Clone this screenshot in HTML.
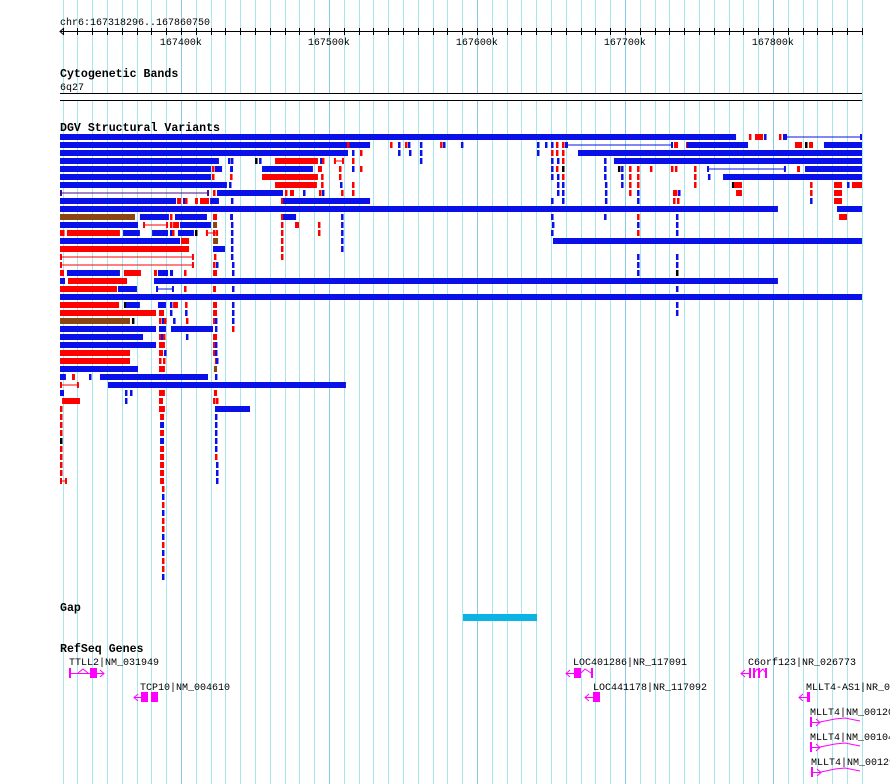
<!DOCTYPE html>
<html><head><meta charset="utf-8"><style>
html,body{margin:0;padding:0;background:#fff;width:890px;height:784px;overflow:hidden}
svg text{font-family:"Liberation Mono",monospace}
</style></head><body>
<svg id="chart" width="890" height="784" xmlns="http://www.w3.org/2000/svg">
<g id="grid"></g>
<g id="ruler">
<text x="60" y="25" font-size="10">chr6:167318296..167860750</text>
</g>
<text x="60" y="77" font-size="11.6" font-weight="bold">Cytogenetic Bands</text>
<text x="60" y="90" font-size="10">6q27</text>
<rect x="60" y="93" width="802" height="7" fill="#fff"/>
<line x1="60" x2="862" y1="93.5" y2="93.5" stroke="#000"/>
<line x1="60" x2="862" y1="100.5" y2="100.5" stroke="#000"/>
<text x="60" y="131" font-size="11.6" font-weight="bold">DGV Structural Variants</text>
<g id="dgv"></g>
<text x="60" y="611" font-size="11.6" font-weight="bold">Gap</text>
<g id="gap"></g>
<text x="60" y="652" font-size="11.6" font-weight="bold">RefSeq Genes</text>
<g id="genes" fill="#ff00ff" stroke="#ff00ff" font-size="10">
 <g>
  <text x="69" y="665" stroke="none" fill="#000">TTLL2|NM_031949</text>
  <rect x="69" y="668" width="2" height="10" stroke="none"/>
  <line x1="71" x2="104" y1="673.5" y2="673.5"/>
  <polyline points="78,673 83,669 88,673" fill="none"/>
  <rect x="90" y="668" width="7" height="10" stroke="none"/>
  <polyline points="100,670 104,673.5 100,677" fill="none"/>
 </g>
 <g>
  <text x="140" y="690" stroke="none" fill="#000">TCP10|NM_004610</text>
  <line x1="134" x2="141" y1="697.5" y2="697.5"/>
  <polyline points="138,694 134,697.5 138,701" fill="none"/>
  <rect x="141" y="692" width="7" height="10" stroke="none"/>
  <rect x="151" y="692" width="7" height="10" stroke="none"/>
 </g>
 <g>
  <text x="573" y="665" stroke="none" fill="#000">LOC401286|NR_117091</text>
  <line x1="566" x2="574" y1="673.5" y2="673.5"/>
  <polyline points="570,670 566,673.5 570,677" fill="none"/>
  <rect x="574" y="668" width="7" height="10" stroke="none"/>
  <polyline points="581,673 585,669 591,673" fill="none"/>
  <rect x="591" y="668" width="2" height="10" stroke="none"/>
 </g>
 <g>
  <text x="593" y="690" stroke="none" fill="#000">LOC441178|NR_117092</text>
  <line x1="585" x2="593" y1="697.5" y2="697.5"/>
  <polyline points="589,694 585,697.5 589,701" fill="none"/>
  <rect x="593" y="692" width="7" height="10" stroke="none"/>
 </g>
 <g>
  <text x="748" y="665" stroke="none" fill="#000">C6orf123|NR_026773</text>
  <line x1="741" x2="750" y1="673.5" y2="673.5"/>
  <polyline points="745,670 741,673.5 745,677" fill="none"/>
  <rect x="749" y="668" width="2" height="10" stroke="none"/>
  <rect x="753" y="668" width="2" height="10" stroke="none"/>
  <rect x="758" y="668" width="2" height="10" stroke="none"/>
  <rect x="765" y="668" width="2" height="10" stroke="none"/>
  <polyline points="755,672 757,669 760,672 763,669 765,672" fill="none"/>
 </g>
 <g>
  <text x="806" y="690" stroke="none" fill="#000">MLLT4-AS1|NR_033980</text>
  <line x1="799" x2="807" y1="697.5" y2="697.5"/>
  <polyline points="803,694 799,697.5 803,701" fill="none"/>
  <rect x="807" y="692" width="3" height="10" stroke="none"/>
 </g>
 <g>
  <text x="810" y="715" stroke="none" fill="#000">MLLT4|NM_001207008</text>
  <rect x="810" y="717" width="2" height="10" stroke="none"/>
  <line x1="812" x2="820" y1="722.5" y2="722.5"/>
  <polyline points="816,719 820,722.5 816,726" fill="none"/>
  <polyline points="820,722 835,719 845,718 860,721" fill="none"/>
 </g>
 <g>
  <text x="810" y="740" stroke="none" fill="#000">MLLT4|NM_001040000</text>
  <rect x="810" y="742" width="2" height="10" stroke="none"/>
  <line x1="812" x2="820" y1="747.5" y2="747.5"/>
  <polyline points="816,744 820,747.5 816,751" fill="none"/>
  <polyline points="820,747 835,744 845,743 860,746" fill="none"/>
 </g>
 <g>
  <text x="811" y="765" stroke="none" fill="#000">MLLT4|NM_001291964</text>
  <rect x="811" y="767" width="2" height="10" stroke="none"/>
  <line x1="813" x2="821" y1="772.5" y2="772.5"/>
  <polyline points="817,769 821,772.5 817,776" fill="none"/>
  <polyline points="821,772 835,769 845,768 860,771" fill="none"/>
 </g>
</g>
</svg>
<script>
// kb offsets from region start 167318.296 kb
const regionStartKb = 167318.296;
const regionLengthKb = 541.9;
const tickStepKb = 10;
const majorLabels = ["167400k","167500k","167600k","167700k","167800k"];
const majorPositionsKb = [167400,167500,167600,167700,167800];
const gapStart = [272.3];
const gapEnd = [322.3];
// variants: [row, startKb, endKb, type]
const variants = [
[0,0,456.8,'b'],[0,465.5,466.9,'r'],[0,469.6,475,'r'],[0,475.7,477,'b'],[0,485.8,487.2,'r'],[0,488.5,489.9,'b'],[0,489.9,541.9,'B'],
[1,0,209.5,'b'],[1,193.9,195.3,'r'],[1,223,223,'r'],[1,228.4,228.4,'b'],[1,233.1,233.1,'r'],[1,235.1,235.1,'b'],[1,243.2,243.2,'b'],[1,256.8,256.8,'r'],[1,258.8,258.8,'b'],[1,270.9,270.9,'b'],[1,322.3,322.3,'b'],[1,327.7,327.7,'b'],[1,331.8,331.8,'b'],[1,335.1,335.1,'r'],[1,339.2,340.5,'r'],[1,341.2,341.2,'b'],[1,341.9,414.2,'B'],[1,414.9,417.6,'r'],[1,423,423,'r'],[1,423.6,464.9,'b'],[1,496.6,501.4,'r'],[1,503.4,503.4,'k'],[1,506.1,508.8,'r'],[1,516.2,541.9,'b'],
[2,0,194.6,'b'],[2,197.3,197.3,'b'],[2,202.7,202.7,'r'],[2,228.4,228.4,'b'],[2,235.8,235.8,'b'],[2,243.2,243.2,'b'],[2,322.3,322.3,'b'],[2,331.8,331.8,'r'],[2,335.1,335.1,'r'],[2,339.2,339.2,'r'],[2,350,541.9,'b'],
[3,0,107.4,'b'],[3,113.5,113.5,'b'],[3,115.5,115.5,'b'],[3,131.8,131.8,'k'],[3,134.5,134.5,'b'],[3,145.3,174.3,'r'],[3,175.7,175.7,'b'],[3,177,177,'r'],[3,185.1,191.9,'R'],[3,197.3,197.3,'r'],[3,243.2,243.2,'b'],[3,331.8,331.8,'b'],[3,335.8,335.8,'b'],[3,339.2,339.2,'r'],[3,367.6,367.6,'b'],[3,374.3,541.9,'b'],
[4,0,102,'b'],[4,102.7,102.7,'r'],[4,104.7,109.5,'b'],[4,114.9,116.9,'b'],[4,136.5,170.9,'b'],[4,174.3,177,'r'],[4,188.5,188.5,'r'],[4,197.3,197.3,'b'],[4,202.7,202.7,'r'],[4,331.8,331.8,'b'],[4,335.1,335.1,'r'],[4,339.2,339.2,'k'],[4,367.6,367.6,'b'],[4,377,377,'k'],[4,379.1,379.1,'b'],[4,384.5,384.5,'r'],[4,389.9,389.9,'r'],[4,398.6,398.6,'r'],[4,412.8,412.8,'r'],[4,415.5,415.5,'r'],[4,428.4,428.4,'r'],[4,437.2,490.5,'B'],[4,498,500,'r'],[4,503.4,541.9,'b'],
[5,0,102,'b'],[5,102.7,104,'r'],[5,114.9,116.2,'r'],[5,136.5,174.3,'r'],[5,176.4,176.4,'r'],[5,188.5,188.5,'r'],[5,331.8,331.8,'b'],[5,335.8,335.8,'b'],[5,339.2,339.2,'r'],[5,367.6,367.6,'b'],[5,379.1,379.1,'b'],[5,384.5,384.5,'r'],[5,389.9,389.9,'r'],[5,428.4,428.4,'r'],[5,437.8,437.8,'b'],[5,448,541.9,'b'],
[6,0,112.8,'b'],[6,114.2,115.5,'b'],[6,145.3,173.6,'r'],[6,176.4,176.4,'r'],[6,189.2,189.2,'b'],[6,197.3,197.3,'r'],[6,335.8,335.8,'b'],[6,339.2,339.2,'b'],[6,368.2,368.2,'b'],[6,379.1,379.1,'b'],[6,384.5,384.5,'r'],[6,389.9,389.9,'r'],[6,428.4,428.4,'r'],[6,454,454,'k'],[6,455.4,460.8,'r'],[6,506.8,506.8,'r'],[6,523,528.4,'r'],[6,531.8,531.8,'b'],[6,535.1,541.9,'r'],
[7,0,100.7,'P'],[7,103.4,103.4,'r'],[7,106.1,150.7,'b'],[7,152,152,'r'],[7,155.4,158.1,'r'],[7,164.2,164.2,'b'],[7,175,175,'r'],[7,177,177,'b'],[7,189.9,189.9,'r'],[7,197.3,197.3,'r'],[7,335.8,335.8,'b'],[7,339.2,339.2,'b'],[7,368.2,368.2,'b'],[7,384.5,384.5,'r'],[7,389.9,389.9,'b'],[7,414.2,414.2,'r'],[7,415.5,416.9,'r'],[7,417.6,417.6,'b'],[7,456.8,460.8,'r'],[7,506.8,506.8,'r'],[7,523,528.4,'r'],
[8,0,78.4,'b'],[8,79.1,81.8,'r'],[8,83.1,83.1,'b'],[8,84.5,84.5,'r'],[8,91.2,93.2,'r'],[8,94.6,100.7,'r'],[8,101.4,107.4,'b'],[8,115.5,116.9,'b'],[8,149.3,149.3,'r'],[8,150.7,209.5,'b'],[8,331.8,331.8,'b'],[8,339.2,339.2,'b'],[8,368.2,368.2,'b'],[8,389.9,389.9,'b'],[8,414.2,414.2,'r'],[8,416.9,416.9,'r'],[8,506.8,506.8,'b'],[8,523,528.4,'r'],
[9,0,485.1,'b'],[9,525,541.9,'b'],
[10,0,50.7,'n'],[10,54,73.6,'b'],[10,74.3,75.7,'r'],[10,77.7,99.3,'b'],[10,103.4,106.1,'r'],[10,114.9,116.9,'b'],[10,149.3,149.3,'r'],[10,150.7,159.5,'b'],[10,189.9,189.9,'b'],[10,331.8,331.8,'b'],[10,367.6,367.6,'b'],[10,389.9,389.9,'r'],[10,416.2,416.2,'b'],[10,526.4,531.8,'r'],
[11,0,52.7,'b'],[11,56.1,73,'R'],[11,74.3,74.3,'r'],[11,76.4,76.4,'r'],[11,77.7,80.4,'r'],[11,81.1,102,'b'],[11,103.4,106.1,'n'],[11,115.5,115.5,'b'],[11,149.3,149.3,'r'],[11,158.8,161.5,'r'],[11,174.3,174.3,'r'],[11,189.9,189.9,'b'],[11,332.4,332.4,'b'],[11,389.9,389.9,'b'],[11,416.2,416.2,'b'],
[12,0,1,'r'],[12,1.4,2.7,'r'],[12,4.7,40.5,'r'],[12,42.6,54,'b'],[12,62.2,73,'b'],[12,74.3,74.3,'b'],[12,75.7,77,'r'],[12,79.7,90.5,'b'],[12,91.2,91.2,'k'],[12,98.6,106.8,'R'],[12,103.4,104,'r'],[12,115.5,115.5,'b'],[12,149.3,149.3,'r'],[12,174.3,174.3,'r'],[12,189.9,189.9,'b'],[12,331.8,331.8,'b'],[12,389.9,389.9,'r'],[12,416.2,416.2,'b'],
[13,0,81.1,'b'],[13,81.8,87.2,'r'],[13,103.4,106.8,'n'],[13,115.5,115.5,'b'],[13,149.3,149.3,'r'],[13,189.9,189.9,'b'],[13,333.1,541.9,'b'],
[14,0,87.2,'r'],[14,103.4,111.5,'b'],[14,115.5,115.5,'b'],[14,149.3,149.3,'r'],[14,189.9,189.9,'b'],
[15,0,90.5,'R'],[15,104,104,'r'],[15,115.5,115.5,'b'],[15,149.3,149.3,'r'],[15,389.9,389.9,'b'],[15,416.2,416.2,'b'],
[16,0,90.5,'R'],[16,103.4,103.4,'r'],[16,105.4,105.4,'b'],[16,116.2,116.2,'b'],[16,389.9,389.9,'b'],[16,416.2,416.2,'b'],
[17,0,2.7,'r'],[17,4.7,40.5,'b'],[17,43.2,54.7,'r'],[17,63.5,65.5,'r'],[17,66.2,73,'b'],[17,74.3,76.4,'b'],[17,83.8,83.8,'r'],[17,103.4,106.1,'r'],[17,116.2,116.2,'b'],[17,389.9,389.9,'b'],[17,416.2,416.2,'k'],
[18,0,3.4,'b'],[18,5.4,45.3,'r'],[18,63.5,485.1,'b'],
[19,0,38.5,'r'],[19,39.2,52,'b'],[19,64.9,77,'B'],[19,83.8,83.8,'r'],[19,103.4,105.4,'r'],[19,116.2,116.2,'b'],[19,416.2,416.2,'b'],
[20,0,541.9,'b'],
[21,0,39.9,'r'],[21,43.2,43.2,'k'],[21,44.6,54,'b'],[21,66.2,71.6,'b'],[21,74.3,74.3,'b'],[21,76.4,79.7,'r'],[21,84.5,84.5,'r'],[21,103.4,106.1,'r'],[21,116.2,116.2,'b'],[21,416.2,416.2,'b'],
[22,0,64.9,'r'],[22,66.9,70.3,'r'],[22,74.3,74.3,'b'],[22,84.5,84.5,'b'],[22,103.4,106.1,'r'],[22,116.2,116.2,'b'],[22,416.2,416.2,'b'],
[23,0,47.3,'n'],[23,48.6,48.6,'k'],[23,66.9,66.9,'r'],[23,68.9,68.9,'b'],[23,70.3,70.3,'r'],[23,76.4,76.4,'b'],[23,85.1,85.1,'r'],[23,103.4,103.4,'r'],[23,104.7,104.7,'b'],[23,116.2,116.2,'b'],
[24,0,64.9,'b'],[24,66.9,71.6,'b'],[24,75,103.4,'b'],[24,104.7,104.7,'b'],[24,116.2,116.2,'r'],
[25,0,56.1,'b'],[25,66.9,66.9,'r'],[25,68.2,68.2,'b'],[25,69.6,69.6,'r'],[25,85.1,85.1,'b'],[25,103.4,106.1,'r'],
[26,0,64.9,'b'],[26,66.9,70.9,'r'],[26,103.4,103.4,'r'],[26,104.7,104.7,'b'],
[27,0,47.3,'r'],[27,66.9,69.6,'r'],[27,70.3,70.3,'b'],[27,103.4,103.4,'r'],[27,104.7,104.7,'b'],
[28,0,47.3,'r'],[28,66.9,66.9,'r'],[28,69.6,70.9,'r'],[28,104.7,104.7,'r'],[28,105.4,105.4,'b'],
[29,0,52.7,'b'],[29,66.9,70.9,'r'],[29,104,106.1,'n'],
[30,0,4,'b'],[30,8.1,10.1,'r'],[30,19.6,21,'b'],[30,27,27,'b'],[30,28.4,100,'b'],[30,104.7,104.7,'b'],
[31,0,12.8,'R'],[31,32.4,193.2,'b'],
[32,0,2.7,'b'],[32,43.9,43.9,'b'],[32,47.3,47.3,'b'],[32,66.9,70.9,'r'],[32,104,106.1,'r'],
[33,1.4,13.5,'r'],[33,43.9,43.9,'b'],[33,66.9,69.6,'r'],[33,103.4,103.4,'r'],[33,105.4,105.4,'r'],
[34,0,0,'r'],[34,66.9,70.9,'r'],[34,104.7,128.4,'b'],
[35,0,0,'r'],[35,67.6,70.3,'r'],[35,104.7,104.7,'b'],
[36,0,0,'r'],[36,67.6,70.3,'b'],[36,104.7,104.7,'b'],
[37,0,0,'r'],[37,67.6,70.3,'r'],[37,104.7,104.7,'b'],
[38,0,0,'k'],[38,67.6,70.3,'b'],[38,104.7,104.7,'b'],
[39,0,0,'r'],[39,67.6,70.3,'r'],[39,104.7,104.7,'b'],
[40,0,0,'r'],[40,67.6,70.3,'r'],[40,104.7,104.7,'r'],
[41,0,0,'r'],[41,67.6,70.3,'r'],[41,105.4,105.4,'b'],
[42,0,0,'r'],[42,67.6,70.3,'r'],[42,105.4,105.4,'b'],
[43,0,4.7,'R'],[43,67.6,70.3,'r'],[43,105.4,105.4,'b'],
[44,68.9,68.9,'r'],[45,68.9,68.9,'b'],[46,68.9,68.9,'r'],[47,68.9,68.9,'b'],[48,68.9,68.9,'r'],
[49,68.9,68.9,'r'],[50,68.9,68.9,'b'],[51,68.9,68.9,'r'],[52,68.9,68.9,'b'],[53,68.9,68.9,'r'],[54,68.9,68.9,'r'],[55,68.9,68.9,'b']
];
const NS='http://www.w3.org/2000/svg';
const pxPerKb = 802/regionLengthKb;
function xScale(kb){return 60+kb*pxPerKb;}
function rowY(r){return 134+r*8;}
const colors={b:'#0a10e8',r:'#ff0000',n:'#8b4513',k:'#000000',B:'#0a10e8',R:'#ff0000',P:'#4b0a8c'};
function mk(tag,attrs,parent){const e=document.createElementNS(NS,tag);for(const k in attrs)e.setAttribute(k,attrs[k]);parent.appendChild(e);return e;}

// grid & ruler
const grid=document.getElementById('grid');
const ruler=document.getElementById('ruler');
const firstTick=Math.ceil(regionStartKb/tickStepKb)*tickStepKb;
for(let p=firstTick;p<regionStartKb+regionLengthKb;p+=tickStepKb){
  const x=Math.round(xScale(p-regionStartKb))+0.5;
  const major=Math.abs(p%100)<1e-6;
  const gl=mk('line',{x1:x,x2:x,y1:0,y2:784,stroke:major?'#88c8e8':'#a8e6ee','stroke-width':1},grid);
  
  
  const tk=mk('line',{x1:x,x2:x,y1:28,y2:35,stroke:'#000'},ruler);
  
  
}
const axis=mk('line',{x1:60,x2:862,y1:31.5,y2:31.5,stroke:'#000'},ruler);


const arr=mk('polyline',{points:'64,28 60,31.5 64,35',fill:'none',stroke:'#000'},ruler);


majorPositionsKb.forEach((p,i)=>{
  const t=mk('text',{x:xScale(p-regionStartKb),y:45,'font-size':10,'text-anchor':'middle'},ruler);
  t.textContent=majorLabels[i];
  
  
});

// DGV
const dgv=document.getElementById('dgv');
variants.forEach(v=>{
  const [row,s,e,t]=v;const y=rowY(row);const c=colors[t];
  const x1=xScale(s),x2=xScale(e);
  if(t==='B'||t==='R'||t==='P'){
    const g=mk('g',{},dgv);
    
    
    mk('rect',{x:x1,y:y+2.5,width:Math.max(1,x2-x1),height:1,fill:c},g);
    mk('rect',{x:x1,y:y,width:2,height:6,fill:c},g);
    mk('rect',{x:x2-2,y:y,width:2,height:6,fill:c},g);
  } else {
    const w=Math.max(2.5,x2-x1);
    const r=mk('rect',{x:x1,y:y,width:w,height:6,fill:c},dgv);
    
    
  }
});

// Gap
const gap=document.getElementById('gap');
gapStart.forEach((s,i)=>{
  const r=mk('rect',{x:xScale(s),y:614,width:xScale(gapEnd[i])-xScale(s),height:7,fill:'#0cb4e6'},gap);
  
  
});
</script>
</body></html>
